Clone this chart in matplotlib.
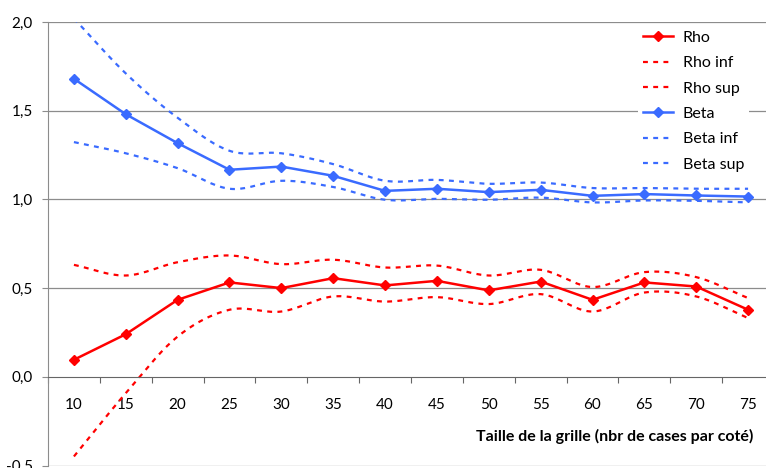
import matplotlib.pyplot as plt
import numpy as np
from matplotlib.ticker import FixedLocator, NullFormatter


TAILLES = [10, 15, 20, 25, 30, 35, 40, 45, 50, 55, 60, 65, 70, 75]

RHO = [0.096, 0.240, 0.434, 0.532, 0.500, 0.556, 0.515, 0.541, 0.487, 0.537, 0.434, 0.532, 0.509, 0.378]
RHO_INF = [-0.449, -0.092, 0.227, 0.378, 0.368, 0.453, 0.424, 0.449, 0.410, 0.466, 0.368, 0.475, 0.453, 0.331]
RHO_SUP = [0.631, 0.571, 0.646, 0.684, 0.635, 0.660, 0.616, 0.627, 0.571, 0.603, 0.506, 0.590, 0.562, 0.444]

BETA = [1.680, 1.480, 1.317, 1.167, 1.185, 1.133, 1.048, 1.060, 1.041, 1.054, 1.020, 1.030, 1.022, 1.016]
BETA_INF = [1.323, 1.260, 1.176, 1.060, 1.105, 1.070, 0.998, 1.003, 0.998, 1.010, 0.983, 0.994, 0.992, 0.983]
BETA_SUP = [2.020, 1.710, 1.460, 1.274, 1.260, 1.199, 1.105, 1.110, 1.088, 1.095, 1.064, 1.064, 1.060, 1.060]

ROUGE = "#FF0000"
BLEU = "#3A6BFF"


def courbeLissee(x, y, pas=20):
	# lissage type Catmull-Rom, comme les courbes lissées d'Excel
	x = np.asarray(x, dtype=float)
	y = np.asarray(y, dtype=float)
	px = np.concatenate(([2 * x[0] - x[1]], x, [2 * x[-1] - x[-2]]))
	py = np.concatenate(([2 * y[0] - y[1]], y, [2 * y[-1] - y[-2]]))
	t = np.linspace(0, 1, pas, endpoint=False)
	xs, ys = [], []
	for i in range(1, len(px) - 2):
		for p, out in ((px, xs), (py, ys)):
			p0, p1, p2, p3 = p[i - 1], p[i], p[i + 1], p[i + 2]
			out.extend(0.5 * ((2 * p1) + (-p0 + p2) * t + (2 * p0 - 5 * p1 + 4 * p2 - p3) * t ** 2
				+ (-p0 + 3 * p1 - 3 * p2 + p3) * t ** 3))
	xs.append(x[-1])
	ys.append(y[-1])
	return np.array(xs), np.array(ys)


def main():
	plt.rcParams["font.family"] = ["Lato", "DejaVu Sans"]
	fig = plt.figure(figsize=(7.66, 4.68), dpi=100)
	largeur, hauteur = 766, 468
	gauche, droite = 48, 774
	haut, bas = 22, 465.5
	ax = fig.add_axes([gauche / largeur, (hauteur - bas) / hauteur,
		(droite - gauche) / largeur, (bas - haut) / hauteur])

	idx = np.arange(len(TAILLES))
	style_pt = dict(linestyle=(0, (2.2, 2.4)), linewidth=1.6)

	ax.plot(idx, RHO, color=ROUGE, linewidth=1.8, marker="D", markersize=5, label="Rho")
	ax.plot(*courbeLissee(idx, RHO_INF), color=ROUGE, label="Rho inf", **style_pt)
	ax.plot(*courbeLissee(idx, RHO_SUP), color=ROUGE, label="Rho sup", **style_pt)
	ax.plot(idx, BETA, color=BLEU, linewidth=1.8, marker="D", markersize=5, label="Beta")
	ax.plot(*courbeLissee(idx, BETA_INF), color=BLEU, label="Beta inf", **style_pt)
	ax.plot(*courbeLissee(idx, BETA_SUP), color=BLEU, label="Beta sup", **style_pt)

	ax.set_xlim(-0.5, len(TAILLES) - 0.5)
	ax.set_ylim(-0.5, 2.0)

	# grille horizontale
	for niveau in [-0.5, 0.5, 1.0, 1.5, 2.0]:
		ax.axhline(niveau, color="#8C8C8C", linewidth=0.9, zorder=0)

	ax.spines["top"].set_visible(False)
	ax.spines["right"].set_visible(False)
	ax.spines["left"].set_color("#8C8C8C")
	ax.spines["bottom"].set_position(("data", 0))
	ax.spines["bottom"].set_color("#666666")

	ax.set_yticks([-0.5, 0.0, 0.5, 1.0, 1.5, 2.0])
	ax.set_yticklabels(["-0,5", "0,0", "0,5", "1,0", "1,5", "2,0"])
	ax.tick_params(axis="y", direction="out", length=4, color="#8C8C8C", pad=7, labelsize=11)

	ax.xaxis.set_major_locator(FixedLocator(np.arange(-0.5, len(TAILLES), 1.0)))
	ax.xaxis.set_major_formatter(NullFormatter())
	ax.xaxis.set_minor_locator(FixedLocator(idx))
	ax.set_xticklabels([str(t) for t in TAILLES], minor=True)
	ax.tick_params(axis="x", which="major", direction="out", length=4, color="#666666")
	ax.tick_params(axis="x", which="minor", length=0, pad=15, labelsize=11)

	fig.text(753 / largeur, 1 - 436 / hauteur, "Taille de la grille (nbr de cases par coté)",
		ha="right", va="center", fontsize=11.5, fontweight="bold")

	leg = ax.legend(loc="upper left", bbox_to_anchor=(638 / largeur, 1 - 26 / hauteur),
		bbox_transform=fig.transFigure, frameon=True, fontsize=11.5, handlelength=1.9,
		handletextpad=0.6, labelspacing=0.7, borderpad=0.3, borderaxespad=0)
	leg.get_frame().set_facecolor("white")
	leg.get_frame().set_edgecolor("none")
	leg.get_frame().set_alpha(1)

	fig.savefig("out.png", dpi=100)


if __name__ == "__main__":
	main()
